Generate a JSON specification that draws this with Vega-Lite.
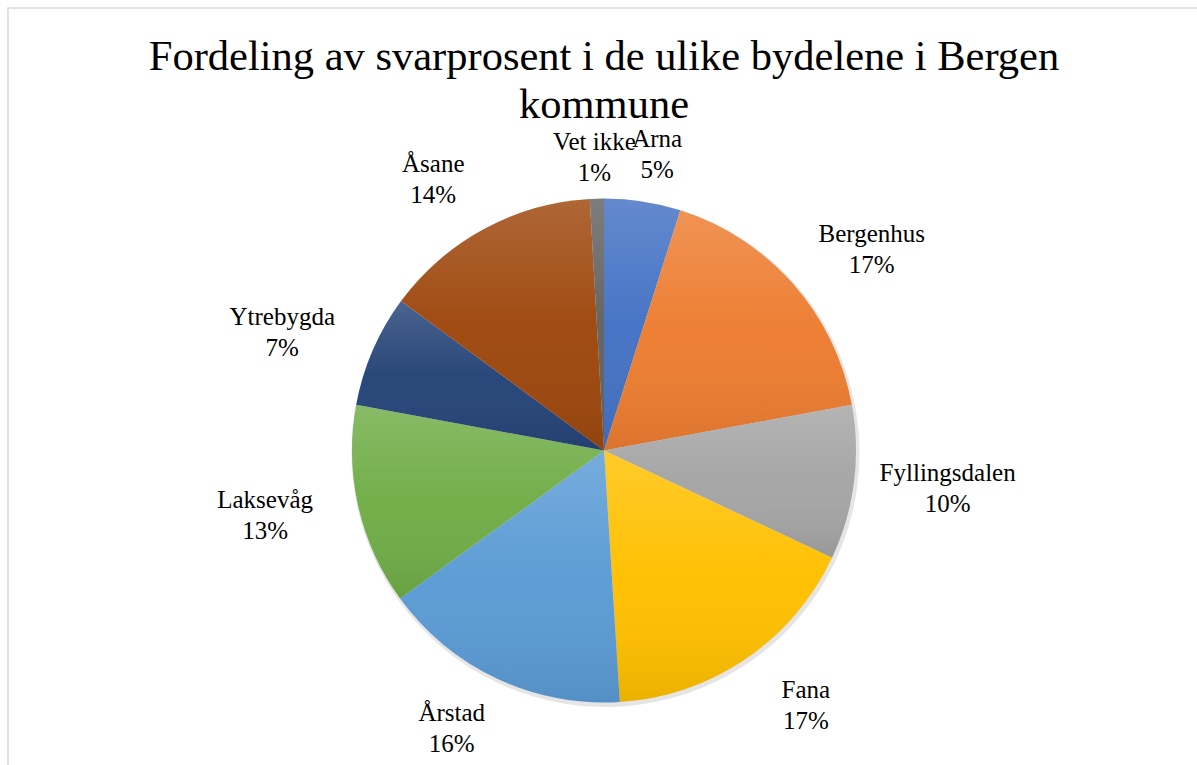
{
  "$schema": "https://vega.github.io/schema/vega-lite/v6.json",
  "width": 1192,
  "height": 885,
  "autosize": {"type": "none"},
  "padding": {"left": 8, "top": 8, "right": -3, "bottom": -128},
  "background": "white",
  "view": {"stroke": "#d9d9d9", "strokeWidth": 1.5, "fill": "white"},
  "config": {"font": "Liberation Serif", "text": {"font": "Liberation Serif"}},
  "title": {
    "text": ["Fordeling av svarprosent i de ulike bydelene i Bergen", "kommune"],
    "font": "Liberation Serif",
    "fontSize": 42.5,
    "fontWeight": "normal",
    "color": "#000000",
    "lineHeight": 48,
    "anchor": "middle",
    "frame": "group",
    "orient": "top",
    "offset": -118
  },
  "data": {
    "values": [
      {"i": 1, "name": "Arna", "v": 4.9},
      {"i": 2, "name": "Bergenhus", "v": 17.2},
      {"i": 3, "name": "Fyllingsdalen", "v": 9.9},
      {"i": 4, "name": "Fana", "v": 17.0},
      {"i": 5, "name": "Årstad", "v": 16.0},
      {"i": 6, "name": "Laksevåg", "v": 12.9},
      {"i": 7, "name": "Ytrebygda", "v": 7.2},
      {"i": 8, "name": "Åsane", "v": 14.0},
      {"i": 9, "name": "Vet ikke", "v": 0.9}
    ]
  },
  "transform": [
    {"joinaggregate": [{"op": "sum", "field": "v", "as": "total"}]},
    {"window": [{"op": "sum", "field": "v", "as": "cum"}], "sort": [{"field": "i", "order": "ascending"}], "frame": [null, 0]},
    {"calculate": "datum.cum - datum.v / 2", "as": "midv"},
    {"calculate": "datum.midv + datum.total * 4.5 / 360 * sin(2 * datum.midv / datum.total * 2 * PI)", "as": "midl"},
    {"calculate": "abs(sin(datum.midl / datum.total * 2 * PI))", "as": "s"},
    {"calculate": "datum.name + '\\n' + round(datum.v) + '%'", "as": "label"}
  ],
  "resolve": {"scale": {"radius": "independent"}},
  "layer": [
    {
      "mark": {"type": "arc", "radius": 254, "fill": "#000000", "opacity": 0.1, "xOffset": 1.5, "yOffset": 2.5},
      "encoding": {
        "theta": {"field": "v", "type": "quantitative", "stack": true},
        "order": {"field": "i", "type": "quantitative"}
      }
    },
    {
      "mark": {"type": "arc", "radius": 252},
      "encoding": {
        "theta": {"field": "v", "type": "quantitative", "stack": true},
        "order": {"field": "i", "type": "quantitative"},
        "color": {
          "field": "name",
          "type": "nominal",
          "scale": {
            "domain": ["Arna", "Bergenhus", "Fyllingsdalen", "Fana", "Årstad", "Laksevåg", "Ytrebygda", "Åsane", "Vet ikke"],
            "range": ["#4472C4", "#ED7D31", "#A5A5A5", "#FFC000", "#5B9BD5", "#70AD47", "#264478", "#9E480E", "#636363"]
          },
          "legend": null
        }
      }
    },
    {
      "mark": {
        "type": "arc",
        "radius": 252,
        "fill": {
          "gradient": "linear",
          "x1": 0, "y1": 0, "x2": 0, "y2": 1,
          "stops": [
            {"offset": 0, "color": "rgba(255,255,255,0.17)"},
            {"offset": 0.5, "color": "rgba(255,255,255,0.02)"},
            {"offset": 1, "color": "rgba(0,0,0,0.08)"}
          ]
        }
      },
      "encoding": {
        "theta": {"field": "v", "type": "quantitative", "stack": true},
        "order": {"field": "i", "type": "quantitative"}
      }
    },
    {
      "mark": {"type": "text", "font": "Liberation Serif", "fontSize": 25, "lineHeight": 31, "lineBreak": "\n", "align": "center", "baseline": "middle", "color": "#000000", "dy": -15.5},
      "encoding": {
        "theta": {"field": "midl", "type": "quantitative", "stack": null},
        "text": {"field": "label"},
        "radius": {"field": "s", "type": "quantitative", "scale": {"type": "linear", "domain": [0, 1], "range": [291, 346], "zero": false}}
      }
    }
  ]
}
